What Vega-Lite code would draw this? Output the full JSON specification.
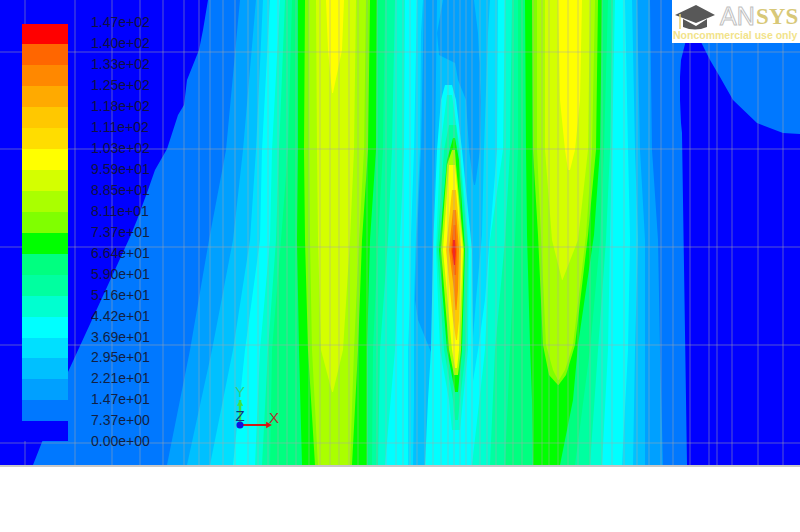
{"$schema":"https://vega.github.io/schema/vega-lite/v6.json","width":800,"height":532,"padding":0,"autosize":{"type":"none"},"background":"#ffffff","config":{"view":{"stroke":null}},
"datasets":{
"bands":[
{"r":"L2","l":2,"y":0,"x":208,"x2":300},{"r":"L2","l":2,"y":30,"x":203,"x2":300},{"r":"L2","l":2,"y":50,"x":199,"x2":300},{"r":"L2","l":2,"y":80,"x":187,"x2":300},{"r":"L2","l":2,"y":105,"x":184,"x2":300},{"r":"L2","l":2,"y":115,"x":178,"x2":300},{"r":"L2","l":2,"y":149,"x":167,"x2":300},{"r":"L2","l":2,"y":170,"x":155,"x2":300},{"r":"L2","l":2,"y":190,"x":148,"x2":300},{"r":"L2","l":2,"y":220,"x":137,"x2":300},{"r":"L2","l":2,"y":237,"x":130,"x2":300},{"r":"L2","l":2,"y":372,"x":68,"x2":300},{"r":"L2","l":2,"y":442,"x":42,"x2":300},{"r":"L2","l":2,"y":465,"x":33,"x2":300},
{"r":"L3","l":3,"y":0,"x":240,"x2":400},{"r":"L3","l":3,"y":150,"x":226,"x2":400},{"r":"L3","l":3,"y":240,"x":209,"x2":400},{"r":"L3","l":3,"y":350,"x":190,"x2":400},{"r":"L3","l":3,"y":465,"x":167,"x2":400},
{"r":"L4","l":4,"y":0,"x":256,"x2":400},{"r":"L4","l":4,"y":150,"x":243,"x2":400},{"r":"L4","l":4,"y":240,"x":233,"x2":400},{"r":"L4","l":4,"y":350,"x":212,"x2":400},{"r":"L4","l":4,"y":465,"x":187,"x2":400},
{"r":"L5","l":5,"y":0,"x":263,"x2":400},{"r":"L5","l":5,"y":150,"x":256,"x2":400},{"r":"L5","l":5,"y":240,"x":250,"x2":400},{"r":"L5","l":5,"y":350,"x":233,"x2":400},{"r":"L5","l":5,"y":465,"x":210,"x2":400},
{"r":"L6","l":6,"y":0,"x":270,"x2":400},{"r":"L6","l":6,"y":150,"x":262,"x2":400},{"r":"L6","l":6,"y":240,"x":260,"x2":400},{"r":"L6","l":6,"y":350,"x":245,"x2":400},{"r":"L6","l":6,"y":465,"x":233,"x2":400},
{"r":"L7","l":7,"y":0,"x":280,"x2":530},{"r":"L7","l":7,"y":150,"x":272,"x2":530},{"r":"L7","l":7,"y":240,"x":270,"x2":530},{"r":"L7","l":7,"y":350,"x":260,"x2":530},{"r":"L7","l":7,"y":465,"x":255,"x2":530},
{"r":"L8","l":8,"y":0,"x":285,"x2":530},{"r":"L8","l":8,"y":150,"x":279,"x2":530},{"r":"L8","l":8,"y":240,"x":276,"x2":530},{"r":"L8","l":8,"y":350,"x":268,"x2":530},{"r":"L8","l":8,"y":465,"x":262,"x2":530},
{"r":"L9","l":9,"y":0,"x":292,"x2":530},{"r":"L9","l":9,"y":150,"x":288,"x2":530},{"r":"L9","l":9,"y":240,"x":281,"x2":530},{"r":"L9","l":9,"y":350,"x":272,"x2":530},{"r":"L9","l":9,"y":465,"x":270,"x2":530},
{"r":"M8","l":8,"y":0,"x":385,"x2":530},{"r":"M8","l":8,"y":150,"x":383,"x2":530},{"r":"M8","l":8,"y":240,"x":378,"x2":530},{"r":"M8","l":8,"y":350,"x":373,"x2":530},{"r":"M8","l":8,"y":465,"x":372,"x2":530},
{"r":"M7","l":7,"y":0,"x":395,"x2":530},{"r":"M7","l":7,"y":150,"x":392,"x2":530},{"r":"M7","l":7,"y":240,"x":388,"x2":530},{"r":"M7","l":7,"y":350,"x":380,"x2":530},{"r":"M7","l":7,"y":465,"x":378,"x2":530},
{"r":"M6","l":6,"y":0,"x":405,"x2":530},{"r":"M6","l":6,"y":150,"x":404,"x2":530},{"r":"M6","l":6,"y":240,"x":400,"x2":530},{"r":"M6","l":6,"y":350,"x":395,"x2":530},{"r":"M6","l":6,"y":465,"x":385,"x2":530},
{"r":"R7","l":7,"y":0,"x":505,"x2":540},{"r":"R7","l":7,"y":150,"x":503,"x2":540},{"r":"R7","l":7,"y":240,"x":490,"x2":540},{"r":"R7","l":7,"y":350,"x":485,"x2":540},{"r":"R7","l":7,"y":465,"x":472,"x2":540},
{"r":"R8","l":8,"y":0,"x":512,"x2":540},{"r":"R8","l":8,"y":150,"x":510,"x2":540},{"r":"R8","l":8,"y":240,"x":505,"x2":540},{"r":"R8","l":8,"y":350,"x":495,"x2":540},{"r":"R8","l":8,"y":465,"x":490,"x2":540},
{"r":"R9","l":9,"y":0,"x":518,"x2":540},{"r":"R9","l":9,"y":150,"x":518,"x2":540},{"r":"R9","l":9,"y":240,"x":515,"x2":540},{"r":"R9","l":9,"y":350,"x":510,"x2":540},{"r":"R9","l":9,"y":465,"x":505,"x2":540},
{"r":"V5","l":5,"y":0,"x":417,"x2":498},{"r":"V5","l":5,"y":150,"x":414,"x2":497},{"r":"V5","l":5,"y":235,"x":411,"x2":490},{"r":"V5","l":5,"y":300,"x":410,"x2":485},{"r":"V5","l":5,"y":350,"x":408,"x2":478},{"r":"V5","l":5,"y":400,"x":408,"x2":470},{"r":"V5","l":5,"y":430,"x":408,"x2":440},{"r":"V5","l":5,"y":465,"x":408,"x2":428},
{"r":"V4","l":4,"y":0,"x":423,"x2":490},{"r":"V4","l":4,"y":33,"x":421,"x2":488},{"r":"V4","l":4,"y":150,"x":420,"x2":484},{"r":"V4","l":4,"y":235,"x":416,"x2":482},{"r":"V4","l":4,"y":300,"x":414,"x2":476},{"r":"V4","l":4,"y":350,"x":414,"x2":472},{"r":"V4","l":4,"y":400,"x":414,"x2":440},{"r":"V4","l":4,"y":465,"x":413,"x2":425},
{"r":"W3","l":3,"y":0,"x":424,"x2":437},{"r":"W3","l":3,"y":150,"x":421,"x2":435},{"r":"W3","l":3,"y":235,"x":417,"x2":433},{"r":"W3","l":3,"y":300,"x":415,"x2":433},{"r":"W3","l":3,"y":320,"x":418,"x2":433},{"r":"W3","l":3,"y":357,"x":433,"x2":433.5},
{"r":"B3","l":3,"y":0,"x":443,"x2":474},{"r":"B3","l":3,"y":33,"x":437,"x2":478},{"r":"B3","l":3,"y":55,"x":439,"x2":479},{"r":"B3","l":3,"y":63,"x":455,"x2":480},{"r":"B3","l":3,"y":80,"x":458,"x2":480},{"r":"B3","l":3,"y":100,"x":466,"x2":481},{"r":"B3","l":3,"y":150,"x":469,"x2":480},{"r":"B3","l":3,"y":180,"x":473,"x2":476},{"r":"B3","l":3,"y":185,"x":474,"x2":475},
{"r":"P6","l":6,"y":85,"x":445,"x2":452},{"r":"P6","l":6,"y":100,"x":441,"x2":456},{"r":"P6","l":6,"y":150,"x":437,"x2":462},{"r":"P6","l":6,"y":250,"x":433,"x2":472},{"r":"P6","l":6,"y":350,"x":431,"x2":473},{"r":"P6","l":6,"y":400,"x":428,"x2":473},{"r":"P6","l":6,"y":465,"x":425,"x2":470},
{"r":"P7","l":7,"y":95,"x":447,"x2":452},{"r":"P7","l":7,"y":150,"x":440,"x2":460},{"r":"P7","l":7,"y":250,"x":436,"x2":469},{"r":"P7","l":7,"y":350,"x":440,"x2":468},{"r":"P7","l":7,"y":400,"x":449,"x2":463},{"r":"P7","l":7,"y":430,"x":452,"x2":460},
{"r":"P8","l":8,"y":125,"x":449,"x2":456},{"r":"P8","l":8,"y":150,"x":444,"x2":459},{"r":"P8","l":8,"y":250,"x":437,"x2":468},{"r":"P8","l":8,"y":350,"x":444,"x2":466},{"r":"P8","l":8,"y":400,"x":453,"x2":460},{"r":"P8","l":8,"y":420,"x":455,"x2":458},
{"r":"P10","l":10,"y":138,"x":453,"x2":455},{"r":"P10","l":10,"y":160,"x":447,"x2":459},{"r":"P10","l":10,"y":250,"x":439,"x2":465},{"r":"P10","l":10,"y":350,"x":447,"x2":462},{"r":"P10","l":10,"y":392,"x":455,"x2":458},
{"r":"P12","l":12,"y":150,"x":452,"x2":455},{"r":"P12","l":12,"y":165,"x":447,"x2":456},{"r":"P12","l":12,"y":250,"x":441,"x2":464},{"r":"P12","l":12,"y":350,"x":449,"x2":461},{"r":"P12","l":12,"y":375,"x":454,"x2":458},
{"r":"P14","l":14,"y":165,"x":449,"x2":455},{"r":"P14","l":14,"y":250,"x":443,"x2":463},{"r":"P14","l":14,"y":350,"x":452,"x2":459},{"r":"P14","l":14,"y":368,"x":455,"x2":457},
{"r":"P16","l":16,"y":190,"x":452,"x2":456},{"r":"P16","l":16,"y":250,"x":446,"x2":461},{"r":"P16","l":16,"y":320,"x":453,"x2":459},{"r":"P16","l":16,"y":340,"x":456,"x2":457},
{"r":"P18","l":18,"y":210,"x":453,"x2":456},{"r":"P18","l":18,"y":250,"x":449,"x2":459},{"r":"P18","l":18,"y":290,"x":454,"x2":458},{"r":"P18","l":18,"y":310,"x":455.5,"x2":456.5},
{"r":"P19","l":19,"y":225,"x":453.5,"x2":455.5},{"r":"P19","l":19,"y":250,"x":451,"x2":457},{"r":"P19","l":19,"y":275,"x":454,"x2":456},
{"r":"P20","l":20,"y":240,"x":453,"x2":455},{"r":"P20","l":20,"y":252,"x":452.5,"x2":455.5},{"r":"P20","l":20,"y":265,"x":454,"x2":455},
{"r":"A10","l":10,"y":0,"x":298,"x2":377},{"r":"A10","l":10,"y":150,"x":298,"x2":376},{"r":"A10","l":10,"y":240,"x":297,"x2":370},{"r":"A10","l":10,"y":350,"x":299,"x2":367},{"r":"A10","l":10,"y":465,"x":302,"x2":367},
{"r":"A11","l":11,"y":0,"x":305,"x2":370},{"r":"A11","l":11,"y":150,"x":304,"x2":368},{"r":"A11","l":11,"y":240,"x":305,"x2":362},{"r":"A11","l":11,"y":350,"x":308,"x2":358},{"r":"A11","l":11,"y":465,"x":315,"x2":352},
{"r":"A12","l":12,"y":0,"x":309,"x2":366},{"r":"A12","l":12,"y":150,"x":309,"x2":364},{"r":"A12","l":12,"y":240,"x":310,"x2":359},{"r":"A12","l":12,"y":350,"x":312,"x2":354},{"r":"A12","l":12,"y":465,"x":318,"x2":350},
{"r":"A13","l":13,"y":0,"x":316,"x2":356},{"r":"A13","l":13,"y":150,"x":317,"x2":354},{"r":"A13","l":13,"y":240,"x":318,"x2":350},{"r":"A13","l":13,"y":350,"x":321,"x2":343},{"r":"A13","l":13,"y":392,"x":332,"x2":333},
{"r":"A14","l":14,"y":0,"x":326,"x2":344},{"r":"A14","l":14,"y":50,"x":328,"x2":342},{"r":"A14","l":14,"y":93,"x":332,"x2":333},
{"r":"F9","l":9,"y":0,"x":590,"x2":800},{"r":"F9","l":9,"y":150,"x":590,"x2":800},{"r":"F9","l":9,"y":240,"x":590,"x2":800},{"r":"F9","l":9,"y":350,"x":570,"x2":800},{"r":"F9","l":9,"y":465,"x":555,"x2":800},
{"r":"F8","l":8,"y":0,"x":608,"x2":800},{"r":"F8","l":8,"y":150,"x":604,"x2":800},{"r":"F8","l":8,"y":240,"x":600,"x2":800},{"r":"F8","l":8,"y":350,"x":590,"x2":800},{"r":"F8","l":8,"y":465,"x":575,"x2":800},
{"r":"F7","l":7,"y":0,"x":613,"x2":800},{"r":"F7","l":7,"y":150,"x":610,"x2":800},{"r":"F7","l":7,"y":240,"x":606,"x2":800},{"r":"F7","l":7,"y":350,"x":598,"x2":800},{"r":"F7","l":7,"y":465,"x":590,"x2":800},
{"r":"F6","l":6,"y":0,"x":615,"x2":800},{"r":"F6","l":6,"y":150,"x":612,"x2":800},{"r":"F6","l":6,"y":240,"x":610,"x2":800},{"r":"F6","l":6,"y":350,"x":608,"x2":800},{"r":"F6","l":6,"y":465,"x":602,"x2":800},
{"r":"F5","l":5,"y":0,"x":625,"x2":800},{"r":"F5","l":5,"y":150,"x":628,"x2":800},{"r":"F5","l":5,"y":240,"x":630,"x2":800},{"r":"F5","l":5,"y":350,"x":628,"x2":800},{"r":"F5","l":5,"y":465,"x":622,"x2":800},
{"r":"F4","l":4,"y":0,"x":632,"x2":800},{"r":"F4","l":4,"y":150,"x":635,"x2":800},{"r":"F4","l":4,"y":240,"x":638,"x2":800},{"r":"F4","l":4,"y":350,"x":635,"x2":800},{"r":"F4","l":4,"y":465,"x":633,"x2":800},
{"r":"F3","l":3,"y":0,"x":637,"x2":800},{"r":"F3","l":3,"y":150,"x":640,"x2":800},{"r":"F3","l":3,"y":240,"x":645,"x2":800},{"r":"F3","l":3,"y":350,"x":645,"x2":800},{"r":"F3","l":3,"y":465,"x":645,"x2":800},
{"r":"F2","l":2,"y":0,"x":650,"x2":800},{"r":"F2","l":2,"y":150,"x":652,"x2":800},{"r":"F2","l":2,"y":240,"x":658,"x2":800},{"r":"F2","l":2,"y":350,"x":660,"x2":800},{"r":"F2","l":2,"y":465,"x":663,"x2":800},
{"r":"F1","l":1,"y":40,"x":686,"x2":700},{"r":"F1","l":1,"y":60,"x":681,"x2":710},{"r":"F1","l":1,"y":77,"x":680,"x2":720},{"r":"F1","l":1,"y":100,"x":680,"x2":733},{"r":"F1","l":1,"y":123,"x":681,"x2":757},{"r":"F1","l":1,"y":133,"x":682,"x2":783},{"r":"F1","l":1,"y":134,"x":682,"x2":800},{"r":"F1","l":1,"y":465,"x":687,"x2":800},
{"r":"C10","l":10,"y":0,"x":525,"x2":602},{"r":"C10","l":10,"y":150,"x":526,"x2":600},{"r":"C10","l":10,"y":235,"x":527,"x2":594},{"r":"C10","l":10,"y":345,"x":530,"x2":578},{"r":"C10","l":10,"y":400,"x":532,"x2":573},{"r":"C10","l":10,"y":465,"x":533,"x2":560},
{"r":"C11","l":11,"y":0,"x":532,"x2":598},{"r":"C11","l":11,"y":150,"x":533,"x2":596},{"r":"C11","l":11,"y":235,"x":538,"x2":588},{"r":"C11","l":11,"y":345,"x":543,"x2":575},{"r":"C11","l":11,"y":375,"x":549,"x2":566},{"r":"C11","l":11,"y":385,"x":558,"x2":558.5},
{"r":"C12","l":12,"y":0,"x":537,"x2":595},{"r":"C12","l":12,"y":150,"x":537,"x2":592},{"r":"C12","l":12,"y":235,"x":541,"x2":586},{"r":"C12","l":12,"y":345,"x":546,"x2":573},{"r":"C12","l":12,"y":370,"x":553,"x2":565},{"r":"C12","l":12,"y":380,"x":558,"x2":559},
{"r":"C13","l":13,"y":0,"x":545,"x2":590},{"r":"C13","l":13,"y":150,"x":545,"x2":588},{"r":"C13","l":13,"y":240,"x":552,"x2":578},{"r":"C13","l":13,"y":280,"x":562,"x2":562.5},
{"r":"C14","l":14,"y":0,"x":558,"x2":582},{"r":"C14","l":14,"y":100,"x":560,"x2":580},{"r":"C14","l":14,"y":150,"x":565,"x2":575},{"r":"C14","l":14,"y":170,"x":568,"x2":570}
],
"legend":[
{"l":20,"top":24,"bot":44,"label":"1.47e+02","yl":23},{"l":19,"top":44,"bot":65,"label":"1.40e+02","yl":44},{"l":18,"top":65,"bot":86,"label":"1.33e+02","yl":65},{"l":17,"top":86,"bot":107,"label":"1.25e+02","yl":86},{"l":16,"top":107,"bot":128,"label":"1.18e+02","yl":107},{"l":15,"top":128,"bot":149,"label":"1.11e+02","yl":128},{"l":14,"top":149,"bot":170,"label":"1.03e+02","yl":149},{"l":13,"top":170,"bot":191,"label":"9.59e+01","yl":170},{"l":12,"top":191,"bot":212,"label":"8.85e+01","yl":191},{"l":11,"top":212,"bot":233,"label":"8.11e+01","yl":212},{"l":10,"top":233,"bot":254,"label":"7.37e+01","yl":233},{"l":9,"top":254,"bot":275,"label":"6.64e+01","yl":254},{"l":8,"top":275,"bot":296,"label":"5.90e+01","yl":275},{"l":7,"top":296,"bot":317,"label":"5.16e+01","yl":296},{"l":6,"top":317,"bot":338,"label":"4.42e+01","yl":317},{"l":5,"top":338,"bot":358,"label":"3.69e+01","yl":338},{"l":4,"top":358,"bot":379,"label":"2.95e+01","yl":358},{"l":3,"top":379,"bot":400,"label":"2.21e+01","yl":379},{"l":2,"top":400,"bot":421,"label":"1.47e+01","yl":400},{"l":1,"top":421,"bot":441,"label":"7.37e+00","yl":421},{"l":1,"top":441,"bot":441,"label":"0.00e+00","yl":442}
],
"vgrid":[{"x":25},{"x":75},{"x":112},{"x":140},{"x":163},{"x":184},{"x":199},{"x":210},{"x":223},{"x":235},{"x":248},{"x":258},{"x":268},{"x":278},{"x":287},{"x":296},{"x":309},{"x":320},{"x":330},{"x":339},{"x":349},{"x":358},{"x":367},{"x":377},{"x":386},{"x":396},{"x":403},{"x":410},{"x":417},{"x":425},{"x":433},{"x":441},{"x":448},{"x":454},{"x":460},{"x":466},{"x":472},{"x":480},{"x":487},{"x":496},{"x":505},{"x":513},{"x":522},{"x":533},{"x":542},{"x":549},{"x":558},{"x":568},{"x":578},{"x":590},{"x":602},{"x":612},{"x":624},{"x":637},{"x":649},{"x":661},{"x":673},{"x":690},{"x":709},{"x":717},{"x":732},{"x":758},{"x":783}],
"hgrid":[{"y":52},{"y":149},{"y":247},{"y":345},{"y":443}]
},
"layer":[
{"data":{"values":[{"x":0,"x2":800,"y":0,"y2":465,"l":1}]},"mark":{"type":"rect"},"encoding":{"x":{"field":"x","type":"quantitative","scale":{"domain":[0,800],"nice":false,"zero":false},"axis":null},"x2":{"field":"x2"},"y":{"field":"y","type":"quantitative","scale":{"domain":[532,0],"nice":false,"zero":false},"axis":null},"y2":{"field":"y2"},"color":{"value":"#0000ff"}}},
{"data":{"name":"bands"},"mark":{"type":"area","orient":"horizontal","interpolate":"linear"},"encoding":{"y":{"field":"y","type":"quantitative","axis":null},"x":{"field":"x","type":"quantitative","axis":null},"x2":{"field":"x2"},"detail":{"field":"r"},"color":{"field":"l","type":"ordinal","legend":null,"sort":null,"scale":{"domain":[1,2,3,4,5,6,7,8,9,10,11,12,13,14,15,16,17,18,19,20],"range":["#0000ff","#0078ff","#00a0ff","#00c0ff","#00e0ff","#00ffff","#00ffd0","#00ffa0","#00ff80","#00ff00","#80ff00","#aaff00","#d4ff00","#ffff00","#ffdd00","#ffc800","#ffaa00","#ff8800","#ff6600","#ff0000"]}}}},
{"data":{"name":"vgrid"},"mark":{"type":"rule","color":"#a8a8a8","opacity":0.5,"strokeWidth":1},"encoding":{"x":{"field":"x","type":"quantitative","axis":null},"y":{"datum":0,"type":"quantitative","axis":null},"y2":{"datum":465}}},
{"data":{"name":"hgrid"},"mark":{"type":"rule","color":"#a8a8a8","opacity":0.5,"strokeWidth":1},"encoding":{"y":{"field":"y","type":"quantitative","axis":null},"x":{"datum":0,"type":"quantitative","axis":null},"x2":{"datum":800}}},
{"data":{"values":[{"y":466}]},"mark":{"type":"rule","color":"#b4b4b4","strokeWidth":1.5},"encoding":{"y":{"field":"y","type":"quantitative","axis":null},"x":{"datum":0,"type":"quantitative","axis":null},"x2":{"datum":800}}},
{"data":{"name":"legend"},"mark":{"type":"rect"},"encoding":{"x":{"datum":22,"type":"quantitative","axis":null},"x2":{"datum":68},"y":{"field":"top","type":"quantitative","axis":null},"y2":{"field":"bot"},"color":{"field":"l","type":"ordinal","legend":null}}},
{"data":{"name":"legend"},"mark":{"type":"text","align":"left","baseline":"middle","font":"Liberation Sans","fontSize":14,"color":"#141428","opacity":0.88},"encoding":{"x":{"datum":91,"type":"quantitative","axis":null},"y":{"field":"yl","type":"quantitative","axis":null},"text":{"field":"label"}}},
{"data":{"values":[{"a":"y","x":240,"y":400,"y2":425}]},"mark":{"type":"rule","color":"#40e040","strokeWidth":2.5},"encoding":{"x":{"field":"x","type":"quantitative","axis":null},"y":{"field":"y","type":"quantitative","axis":null},"y2":{"field":"y2"}}},
{"data":{"values":[{"a":"x","x":240,"x2":268,"y":425}]},"mark":{"type":"rule","color":"#d01818","strokeWidth":2},"encoding":{"x":{"field":"x","type":"quantitative","axis":null},"x2":{"field":"x2"},"y":{"field":"y","type":"quantitative","axis":null}}},
{"data":{"values":[{"x":269,"y":425}]},"mark":{"type":"point","filled":true,"shape":"triangle-right","size":45,"color":"#e01010","opacity":1},"encoding":{"x":{"field":"x","type":"quantitative","axis":null},"y":{"field":"y","type":"quantitative","axis":null}}},
{"data":{"values":[{"x":240,"y":403}]},"mark":{"type":"point","filled":true,"shape":"triangle-up","size":40,"color":"#40e040","opacity":1},"encoding":{"x":{"field":"x","type":"quantitative","axis":null},"y":{"field":"y","type":"quantitative","axis":null}}},
{"data":{"values":[{"x":240,"y":425}]},"mark":{"type":"point","filled":true,"shape":"circle","size":50,"color":"#1010e0","opacity":1},"encoding":{"x":{"field":"x","type":"quantitative","axis":null},"y":{"field":"y","type":"quantitative","axis":null}}},
{"data":{"values":[{"t":"Y","x":240,"y":392,"c":"#30d080"},{"t":"Z","x":240,"y":416,"c":"#103080"},{"t":"X","x":274,"y":418,"c":"#b03030"}]},"mark":{"type":"text","font":"Liberation Sans","fontSize":15,"align":"center","baseline":"middle"},"encoding":{"x":{"field":"x","type":"quantitative","axis":null},"y":{"field":"y","type":"quantitative","axis":null},"text":{"field":"t"},"fill":{"field":"c","type":"nominal","scale":null}}},
{"data":{"values":[{"x":672,"x2":800,"y":0,"y2":43}]},"mark":{"type":"rect","color":"#ffffff"},"encoding":{"x":{"field":"x","type":"quantitative","axis":null},"x2":{"field":"x2"},"y":{"field":"y","type":"quantitative","axis":null},"y2":{"field":"y2"}}},
{"data":{"values":[{"x":695,"y":15}]},"mark":{"type":"point","filled":true,"opacity":1,"color":"#585858","size":1600,"shape":"M-1,0 L0.05,-0.5 L1,0 L0.05,0.4 Z M-0.6,0.2 L0.05,0.55 L0.6,0.2 L0.6,0.6 Q0,0.85 -0.6,0.6 Z"},"encoding":{"x":{"field":"x","type":"quantitative","axis":null},"y":{"field":"y","type":"quantitative","axis":null}}},
{"data":{"values":[{"x":680,"y":14,"y2":29}]},"mark":{"type":"rule","color":"#e8d070","strokeWidth":1.5},"encoding":{"x":{"field":"x","type":"quantitative","axis":null},"y":{"field":"y","type":"quantitative","axis":null},"y2":{"field":"y2"}}},
{"data":{"values":[{"t":"AN","x":720,"y":17}]},"mark":{"type":"text","font":"Liberation Sans","fontSize":25,"align":"left","baseline":"middle","fill":"#ffffff","stroke":"#c0c0c0","strokeWidth":1},"encoding":{"x":{"field":"x","type":"quantitative","axis":null},"y":{"field":"y","type":"quantitative","axis":null},"text":{"field":"t"}}},
{"data":{"values":[{"t":"SYS","x":756,"y":17}]},"mark":{"type":"text","font":"Liberation Serif","fontSize":23,"fontWeight":"bold","align":"left","baseline":"middle","color":"#d8c878"},"encoding":{"x":{"field":"x","type":"quantitative","axis":null},"y":{"field":"y","type":"quantitative","axis":null},"text":{"field":"t"}}},
{"data":{"values":[{"t":"Noncommercial use only","x":673,"y":36}]},"mark":{"type":"text","font":"Liberation Sans","fontSize":10.5,"fontWeight":"bold","align":"left","baseline":"middle","color":"#f2e38a"},"encoding":{"x":{"field":"x","type":"quantitative","axis":null},"y":{"field":"y","type":"quantitative","axis":null},"text":{"field":"t"}}}
]}
